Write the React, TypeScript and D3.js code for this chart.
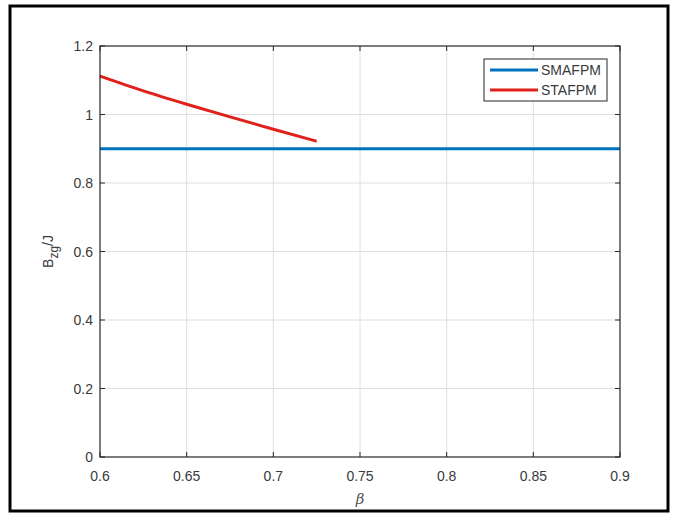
import React from "react";
import * as d3 from "d3";

const xTicks = [0.6, 0.65, 0.7, 0.75, 0.8, 0.85, 0.9];
const yTicks = [0, 0.2, 0.4, 0.6, 0.8, 1, 1.2];
const yTickLabels = ["0", "0.2", "0.4", "0.6", "0.8", "1", "1.2"];
const xTickLabels = ["0.6", "0.65", "0.7", "0.75", "0.8", "0.85", "0.9"];

const smafpmX = [0.6, 0.9];
const smafpmY = [0.9, 0.9];
const stafpmX = [0.6, 0.625, 0.65, 0.675, 0.7, 0.725];
const stafpmY = [1.112, 1.069, 1.03, 0.993, 0.957, 0.922];

const seriesNames = ["SMAFPM", "STAFPM"];
const seriesColors = ["#0072BD", "#E0201B"];

const W = 673;
const H = 514;
const L = 100, R = 620, T = 46, B = 457;
const FONT = "'Liberation Sans', Arial, Helvetica, sans-serif";
const TXT = "#3a3a3a";
const AX = "#262626";

export default function App() {
  const x = d3.scaleLinear().domain([0.6, 0.9]).range([L, R]);
  const y = d3.scaleLinear().domain([0, 1.2]).range([B, T]);
  const line = d3
    .line<[number, number]>()
    .x((d) => x(d[0]))
    .y((d) => y(d[1]))
    .curve(d3.curveMonotoneX);

  const s1: [number, number][] = smafpmX.map((v, i) => [v, smafpmY[i]]);
  const s2: [number, number][] = stafpmX.map((v, i) => [v, stafpmY[i]]);
  const tickLen = 5;

  return (
    <svg
      width={W}
      height={H}
      style={{ position: "absolute", left: 0, top: 0, background: "#fff" }}
      fontFamily={FONT}
    >
      <rect x={0} y={0} width={W} height={H} fill="#fff" />
      <rect x={10} y={6} width={658} height={505} fill="none" stroke="#000" strokeWidth={3} />

      {/* grid */}
      {xTicks.map((t, i) =>
        i > 0 && i < xTicks.length - 1 ? (
          <line key={"gx" + i} x1={x(t)} x2={x(t)} y1={T} y2={B} stroke="#dedede" strokeWidth={1} />
        ) : null
      )}
      {yTicks.map((t, i) =>
        i > 0 && i < yTicks.length - 1 ? (
          <line key={"gy" + i} x1={L} x2={R} y1={y(t)} y2={y(t)} stroke="#dedede" strokeWidth={1} />
        ) : null
      )}

      {/* series */}
      <path d={line(s1) || ""} fill="none" stroke={seriesColors[0]} strokeWidth={3} />
      <path d={line(s2) || ""} fill="none" stroke={seriesColors[1]} strokeWidth={3} />

      {/* axes box */}
      <rect x={L} y={T} width={R - L} height={B - T} fill="none" stroke={AX} strokeWidth={1.2} />
      {xTicks.map((t, i) => (
        <g key={"tx" + i}>
          <line x1={x(t)} x2={x(t)} y1={B} y2={B - tickLen} stroke={AX} />
          <line x1={x(t)} x2={x(t)} y1={T} y2={T + tickLen} stroke={AX} />
          <text x={x(t)} y={481} textAnchor="middle" fontSize={14} fill={TXT}>
            {xTickLabels[i]}
          </text>
        </g>
      ))}
      {yTicks.map((t, i) => (
        <g key={"ty" + i}>
          <line x1={L} x2={L + tickLen} y1={y(t)} y2={y(t)} stroke={AX} />
          <line x1={R} x2={R - tickLen} y1={y(t)} y2={y(t)} stroke={AX} />
          <text x={L - 7} y={y(t) + 5} textAnchor="end" fontSize={14} fill={TXT}>
            {yTickLabels[i]}
          </text>
        </g>
      ))}

      {/* axis labels */}
      <text x={(L + R) / 2} y={504} textAnchor="middle" fontSize={15} fontStyle="italic" fill="#555" fontFamily="'DejaVu Serif', serif">
        β
      </text>
      <text transform={`translate(53, ${(T + B) / 2}) rotate(-90)`} textAnchor="middle" fontSize={14} fill={TXT}>
        <tspan>B</tspan>
        <tspan dy={5} fontSize={12}>zg</tspan>
        <tspan dy={-5}>/J</tspan>
      </text>

      {/* legend */}
      <rect x={484} y={59} width={123} height={42} fill="#fff" stroke={AX} strokeWidth={1} />
      {seriesNames.map((n, i) => (
        <g key={"lg" + i}>
          <line x1={490} x2={538} y1={70 + i * 20} y2={70 + i * 20} stroke={seriesColors[i]} strokeWidth={3} />
          <text x={541} y={75 + i * 20} fontSize={14} fill={TXT}>
            {n}
          </text>
        </g>
      ))}
    </svg>
  );
}
